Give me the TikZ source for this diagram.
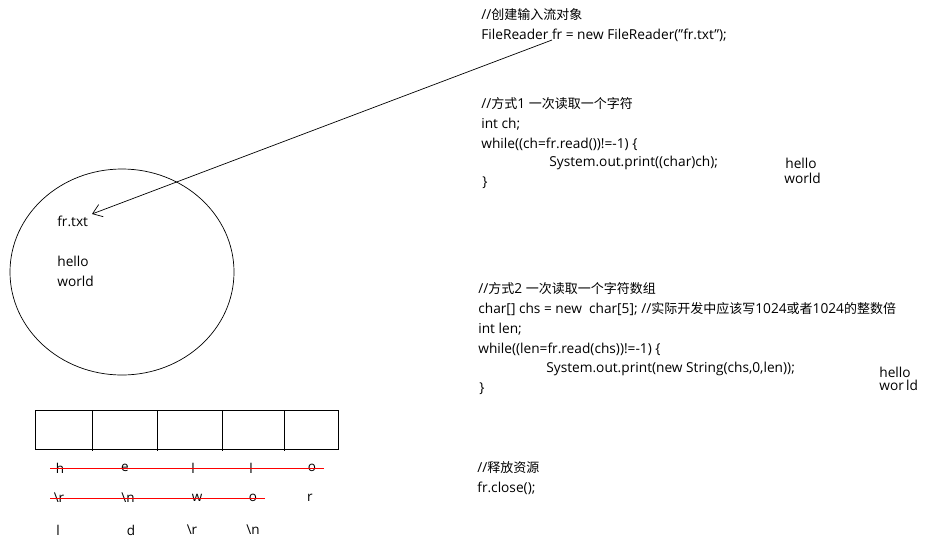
\documentclass[tikz,border=0pt]{standalone}
\usepackage{fontspec}
\setmainfont{Open Sans}
\newfontfamily\cjk{Noto Sans CJK SC}
\usetikzlibrary{arrows.meta,shapes.geometric}
\newcommand{\zh}[1]{{\cjk\fontsize{13}{16}\selectfont #1}}
\newcommand{\dq}{\symbol{34}}
\begin{document}
\begin{tikzpicture}[x=1pt,y=-1pt,
  txt/.style={anchor=west,inner sep=0pt,font=\fontsize{13.7}{16}\selectfont},
  ltr/.style={anchor=center,inner sep=0pt,font=\fontsize{13.5}{16}\selectfont},
  strike/.style={draw=red,line width=1pt},
  line width=0.7pt]
\useasboundingbox (0,0) rectangle (931,547);
% code text
\node[txt] (c1) at (481,15) {//\zh{创建输入流对象}};
\node[txt] (c2) at (481,35) {FileReader fr = new FileReader(\dq fr.txt\dq);};
\node[txt] (m1a) at (481,104) {//\zh{方式}1 \zh{一次读取一个字符}};
\node[txt] (m1b) at (481,124) {int ch;};
\node[txt] (m1c) at (481,144) {while((ch=fr.read())!=-1) \{};
\node[txt] (m1d) at (549,163) {System.out.print((char)ch);};
\node[txt] (m1e) at (482,183) {\}};
\node[txt] (o1a) at (785,163) {hello};
\node[txt] (o1b) at (784,178) {world};
\node[txt] (m2a) at (478,289) {//\zh{方式}2 \zh{一次读取一个字符数组}};
\node[txt] (m2b) at (478,309) {char[] chs = new\ \ char[5]; //\zh{实际开发中应该写}1024\zh{或者}1024\zh{的整数倍}};
\node[txt] (m2c) at (478,329) {int len;};
\node[txt] (m2d) at (478,349) {while((len=fr.read(chs))!=-1) \{};
\node[txt] (m2e) at (546,369) {System.out.print(new String(chs,0,len));};
\node[txt] (m2f) at (479,389) {\}};
\node[txt] (o2a) at (879,372) {hello};
\node[txt] (o2b) at (879,385) {wor\,ld};
\node[txt] (r1) at (477,468) {//\zh{释放资源}};
\node[txt] (r2) at (477,488) {fr.close();};
% file ellipse
\node[draw,ellipse,minimum width=224pt,minimum height=206pt,inner sep=0pt] (file) at (122,272) {};
\node[txt] (fname) at (57,221) {fr.txt};
\node[txt] (fh) at (57,261) {hello};
\node[txt] (fw) at (57,281) {world};
% arrow
\coordinate (src) at (552,40);
\coordinate (dst) at (92,214);
\draw[-{Straight Barb[length=9pt,width=13pt]}] (src) -- (dst);
% array
\draw (35,410) rectangle (338,449);
\foreach \x in {92,157,222,284} \draw (\x,410) -- (\x,451);
% letters
\node[ltr] (a1) at (60,468) {h};
\node[ltr] (a2) at (125,468) {e};
\node[ltr] (a3) at (193,468) {l};
\node[ltr] (a4) at (251,468) {l};
\node[ltr] (a5) at (312,468) {o};
\node[ltr] (b1) at (59,498) {\textbackslash r};
\node[ltr] (b2) at (128,498) {\textbackslash n};
\node[ltr] (b3) at (197,498) {w};
\node[ltr] (b4) at (253,498) {o};
\node[ltr] (b5) at (310,498) {r};
\node[ltr] (d1) at (58,530) {l};
\node[ltr] (d2) at (131,530) {d};
\node[ltr] (d3) at (192,530) {\textbackslash r};
\node[ltr] (d4) at (253,530) {\textbackslash n};
\coordinate (s1a) at (50,468); \coordinate (s1b) at (324,468);
\coordinate (s2a) at (50,498); \coordinate (s2b) at (265,498);
\draw[strike] (s1a) -- (s1b);
\draw[strike] (s2a) -- (s2b);
\end{tikzpicture}
\end{document}
